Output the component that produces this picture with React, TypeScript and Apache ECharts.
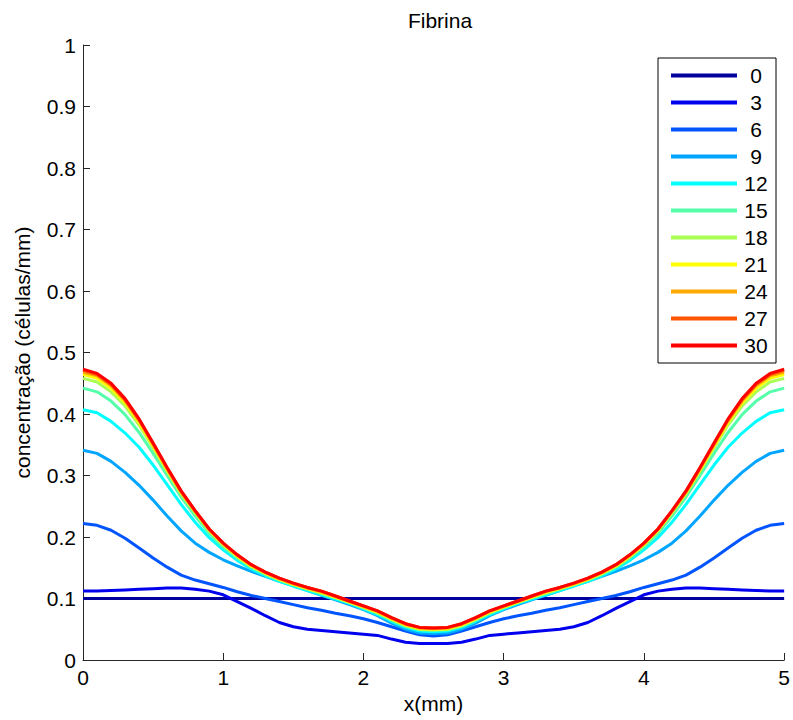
import React, { useEffect, useRef } from "react";
import * as echarts from "echarts";

const xs = [0,0.1,0.2,0.3,0.4,0.5,0.6,0.7,0.8,0.9,1,1.1,1.2,1.3,1.4,1.5,1.6,1.7,1.8,1.9,2,2.1,2.2,2.3,2.4,2.5,2.6,2.7,2.8,2.9,3,3.1,3.2,3.3,3.4,3.5,3.6,3.7,3.8,3.9,4,4.1,4.2,4.3,4.4,4.5,4.6,4.7,4.8,4.9,5];

const seriesNames = ["0","3","6","9","12","15","18","21","24","27","30"];
const seriesColors = ["#00009c","#0000ee","#0055ff","#00a5ff","#00ffff","#55ffaa","#aaff55","#ffff00","#ffaa00","#ff5500","#ff0000"];

const s0 = [0.1,0.1,0.1,0.1,0.1,0.1,0.1,0.1,0.1,0.1,0.1,0.1,0.1,0.1,0.1,0.1,0.1,0.1,0.1,0.1,0.1,0.1,0.1,0.1,0.1,0.1,0.1,0.1,0.1,0.1,0.1,0.1,0.1,0.1,0.1,0.1,0.1,0.1,0.1,0.1,0.1,0.1,0.1,0.1,0.1,0.1,0.1,0.1,0.1,0.1,0.1];
const s3 = [0.112,0.112,0.113,0.114,0.115,0.116,0.117,0.117,0.115,0.112,0.106,0.095,0.084,0.072,0.061,0.054,0.050,0.048,0.046,0.044,0.042,0.040,0.034,0.029,0.027,0.027,0.027,0.029,0.034,0.040,0.042,0.044,0.046,0.048,0.050,0.054,0.061,0.072,0.084,0.095,0.106,0.112,0.115,0.117,0.117,0.116,0.115,0.114,0.113,0.112,0.112];
const s6 = [0.222,0.219,0.211,0.198,0.182,0.166,0.151,0.138,0.130,0.124,0.118,0.111,0.105,0.100,0.095,0.090,0.085,0.081,0.076,0.072,0.067,0.061,0.054,0.047,0.041,0.039,0.041,0.047,0.054,0.061,0.067,0.072,0.076,0.081,0.085,0.090,0.095,0.100,0.105,0.111,0.118,0.124,0.130,0.138,0.151,0.166,0.182,0.198,0.211,0.219,0.222];
const s9 = [0.341,0.336,0.323,0.305,0.284,0.260,0.234,0.210,0.190,0.175,0.163,0.153,0.144,0.136,0.128,0.121,0.113,0.105,0.098,0.090,0.082,0.072,0.060,0.050,0.044,0.043,0.044,0.050,0.060,0.072,0.082,0.090,0.098,0.105,0.113,0.121,0.128,0.136,0.144,0.153,0.163,0.175,0.190,0.210,0.234,0.260,0.284,0.305,0.323,0.336,0.341];
const s12 = [0.407,0.402,0.388,0.369,0.346,0.317,0.285,0.253,0.224,0.199,0.179,0.162,0.148,0.137,0.128,0.120,0.113,0.106,0.099,0.092,0.083,0.074,0.063,0.053,0.047,0.046,0.047,0.053,0.063,0.074,0.083,0.092,0.099,0.106,0.113,0.120,0.128,0.137,0.148,0.162,0.179,0.199,0.224,0.253,0.285,0.317,0.346,0.369,0.388,0.402,0.407];
const s15 = [0.442,0.436,0.421,0.399,0.370,0.336,0.300,0.265,0.234,0.206,0.184,0.166,0.151,0.139,0.130,0.122,0.115,0.108,0.101,0.093,0.085,0.076,0.065,0.055,0.049,0.048,0.049,0.055,0.065,0.076,0.085,0.093,0.101,0.108,0.115,0.122,0.130,0.139,0.151,0.166,0.184,0.206,0.234,0.265,0.300,0.336,0.370,0.399,0.421,0.436,0.442];
const s18 = [0.458,0.452,0.436,0.413,0.382,0.345,0.307,0.270,0.239,0.210,0.187,0.168,0.152,0.141,0.131,0.123,0.116,0.109,0.102,0.094,0.086,0.077,0.066,0.056,0.050,0.049,0.050,0.056,0.066,0.077,0.086,0.094,0.102,0.109,0.116,0.123,0.131,0.141,0.152,0.168,0.187,0.210,0.239,0.270,0.307,0.345,0.382,0.413,0.436,0.452,0.458];
const s21 = [0.464,0.458,0.442,0.418,0.386,0.348,0.309,0.272,0.241,0.211,0.188,0.169,0.153,0.141,0.131,0.123,0.116,0.110,0.102,0.094,0.086,0.078,0.067,0.057,0.051,0.050,0.051,0.057,0.067,0.078,0.086,0.094,0.102,0.110,0.116,0.123,0.131,0.141,0.153,0.169,0.188,0.211,0.241,0.272,0.309,0.348,0.386,0.418,0.442,0.458,0.464];
const s24 = [0.468,0.462,0.446,0.421,0.389,0.350,0.311,0.273,0.242,0.212,0.189,0.170,0.154,0.142,0.132,0.124,0.117,0.111,0.103,0.095,0.087,0.079,0.068,0.058,0.052,0.051,0.052,0.058,0.068,0.079,0.087,0.095,0.103,0.111,0.117,0.124,0.132,0.142,0.154,0.170,0.189,0.212,0.242,0.273,0.311,0.350,0.389,0.421,0.446,0.462,0.468];
const s27 = [0.471,0.464,0.448,0.423,0.391,0.352,0.312,0.274,0.242,0.213,0.190,0.171,0.155,0.143,0.133,0.125,0.118,0.112,0.104,0.096,0.088,0.080,0.069,0.059,0.053,0.052,0.053,0.059,0.069,0.080,0.088,0.096,0.104,0.112,0.118,0.125,0.133,0.143,0.155,0.171,0.190,0.213,0.242,0.274,0.312,0.352,0.391,0.423,0.448,0.464,0.471];
const s30 = [0.473,0.466,0.450,0.425,0.392,0.353,0.313,0.275,0.243,0.213,0.190,0.171,0.155,0.143,0.133,0.125,0.118,0.112,0.104,0.096,0.088,0.080,0.069,0.059,0.053,0.052,0.053,0.059,0.069,0.080,0.088,0.096,0.104,0.112,0.118,0.125,0.133,0.143,0.155,0.171,0.190,0.213,0.243,0.275,0.313,0.353,0.392,0.425,0.450,0.466,0.473];

const allSeries = [s0, s3, s6, s9, s12, s15, s18, s21, s24, s27, s30];

const FONT = "'Liberation Sans', Arial, Helvetica, sans-serif";

export default function App() {
  const ref = useRef<HTMLDivElement>(null);
  useEffect(() => {
    if (!ref.current) return;
    const chart = echarts.init(ref.current, undefined, { renderer: "svg" });
    const axisLine = { show: true, lineStyle: { color: "#262626", width: 1 } };
    chart.setOption({
      animation: false,
      backgroundColor: "#ffffff",
      textStyle: { fontFamily: FONT },
      title: {
        text: "Fibrina",
        left: 435,
        textAlign: "center",
        top: 5,
        textStyle: { fontSize: 21, fontWeight: "normal", color: "#000", fontFamily: FONT },
      },
      grid: { left: 83, right: 7, top: 45, bottom: 60, containLabel: false },
      legend: {
        orient: "vertical",
        left: 658,
        top: 58,
        backgroundColor: "#fff",
        borderColor: "#000",
        borderWidth: 1,
        borderRadius: 0,
        padding: [7, 6, 7, 13],
        itemGap: 6,
        itemWidth: 66,
        itemHeight: 4,
        icon: "rect",
        data: seriesNames,
        formatter: "{c|{name}}",
        textStyle: {
          fontSize: 21,
          color: "#000",
          fontFamily: FONT,
          lineHeight: 21,
          rich: { c: { width: 28, align: "center", fontSize: 21, lineHeight: 21, fontFamily: FONT, color: "#000" } },
        },
      },
      xAxis: {
        type: "value",
        min: 0,
        max: 5,
        interval: 1,
        name: "x(mm)",
        nameLocation: "middle",
        nameGap: 20,
        nameTextStyle: { fontSize: 21, color: "#000", fontFamily: FONT },
        axisLine,
        axisTick: { show: true, inside: true, length: 7, lineStyle: { color: "#262626" } },
        axisLabel: { fontSize: 21, color: "#000", margin: 7, fontFamily: FONT },
        splitLine: { show: false },
      },
      yAxis: {
        type: "value",
        min: 0,
        max: 1,
        interval: 0.1,
        name: "concentração (células/mm)",
        nameLocation: "middle",
        nameRotate: 90,
        nameGap: 50,
        nameTextStyle: { fontSize: 21, color: "#000", fontFamily: FONT },
        axisLine,
        axisTick: { show: true, inside: true, length: 7, lineStyle: { color: "#262626" } },
        axisLabel: { fontSize: 21, color: "#000", margin: 7, fontFamily: FONT },
        splitLine: { show: false },
      },
      series: allSeries.map((vals, k) => ({
        name: seriesNames[k],
        type: "line",
        data: xs.map((x, i) => [x, vals[i]]),
        showSymbol: false,
        symbol: "none",
        smooth: false,
        color: seriesColors[k],
        lineStyle: { width: 3, color: seriesColors[k] },
        emphasis: { disabled: true },
      })),
    });
    return () => chart.dispose();
  }, []);
  return (
    <div
      ref={ref}
      style={{ position: "absolute", left: 0, top: 0, width: 793, height: 720 }}
    />
  );
}
